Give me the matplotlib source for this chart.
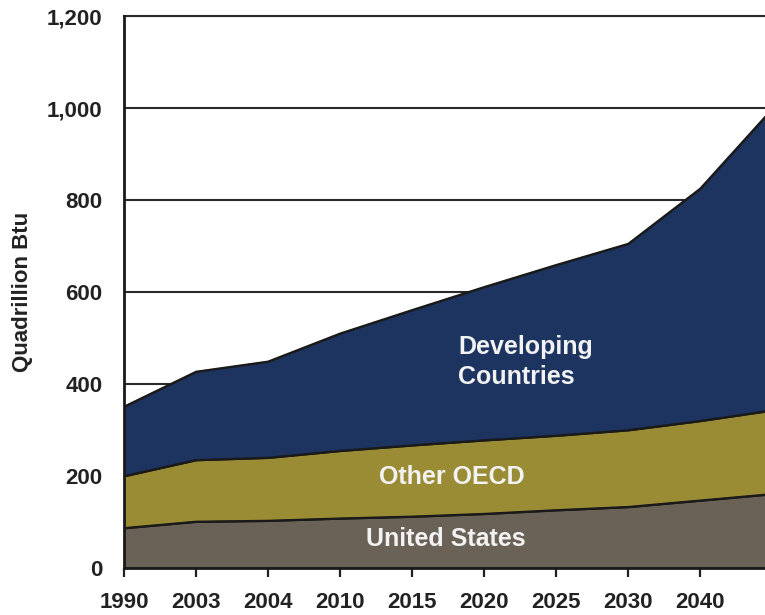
import matplotlib
matplotlib.use("Agg")
import matplotlib.pyplot as plt
import numpy as np

# World marketed energy consumption by region (quadrillion Btu)
years = ["1990", "2003", "2004", "2010", "2015", "2020", "2025", "2030", "2040", "2050"]
united_states = [87, 101, 103, 108, 112, 118, 126, 133, 147, 161]
other_oecd = [113, 134, 137, 147, 155, 160, 162, 167, 173, 182]
developing = [151, 192, 209, 255, 294, 333, 371, 405, 505, 655]

series_names = ["United States", "Other OECD", "Developing\nCountries"]
colors = ["#6B6257", "#9A8C35", "#1D3461"]
y_ticks = [0, 200, 400, 600, 800, 1000, 1200]

plt.rcParams["font.family"] = ["Liberation Sans", "DejaVu Sans"]

fig = plt.figure(figsize=(7.65, 6.15), dpi=100)
ax = fig.add_axes([124 / 765, 47 / 615, 1 - 124 / 765, 552 / 615])

x = np.arange(len(years))
stack = np.vstack([united_states, other_oecd, developing])
ax.stackplot(x, stack, colors=colors, edgecolor="#1a1a1a", linewidth=1.3, zorder=2)
tops = np.cumsum(stack, axis=0)
for top in tops:
    ax.plot(x, top, color="#1a1a1a", linewidth=1.3, zorder=3)

# The last period runs past the right edge of the plot
ax.set_xlim(0, 8.9)
ax.set_ylim(0, 1200)
ax.set_yticks(y_ticks)
ax.set_yticklabels([f"{v:,}" for v in y_ticks], fontsize=16, fontweight="bold",
                   color="#222222")
shown = x[:-1]
ax.set_xticks(shown)
ax.set_xticklabels(years[:-1], fontsize=16, fontweight="bold", color="#222222")
ax.tick_params(axis="y", length=0, pad=15.5)
ax.tick_params(axis="x", length=6.5, width=1.6, color="#222222", pad=11,
               direction="out")

ax.yaxis.grid(True, color="#2a2a2a", linewidth=1.5, zorder=1)
ax.set_axisbelow(True)

ax.spines["right"].set_visible(False)
ax.spines["top"].set_color("#2a2a2a")
ax.spines["top"].set_linewidth(1.5)
for side in ["left", "bottom"]:
    ax.spines[side].set_color("#1a1a1a")
    ax.spines[side].set_linewidth(2.0)
    ax.spines[side].set_zorder(4)

ax.set_ylabel("Quadrillion Btu", fontsize=16, fontweight="bold", color="#222222")
ax.yaxis.set_label_coords(-91 / 641, (615 - 292 - 47) / 552)

label_style = dict(fontsize=18, fontweight="bold", color="#F2F2F2", zorder=5)
ax.text(4.64, 448, series_names[2], ha="left", va="center", linespacing=1.3,
        **label_style)
ax.text(4.55, 198, series_names[1], ha="center", va="center", **label_style)
ax.text(4.47, 63, series_names[0], ha="center", va="center", **label_style)

fig.savefig("out.png", dpi=100)
